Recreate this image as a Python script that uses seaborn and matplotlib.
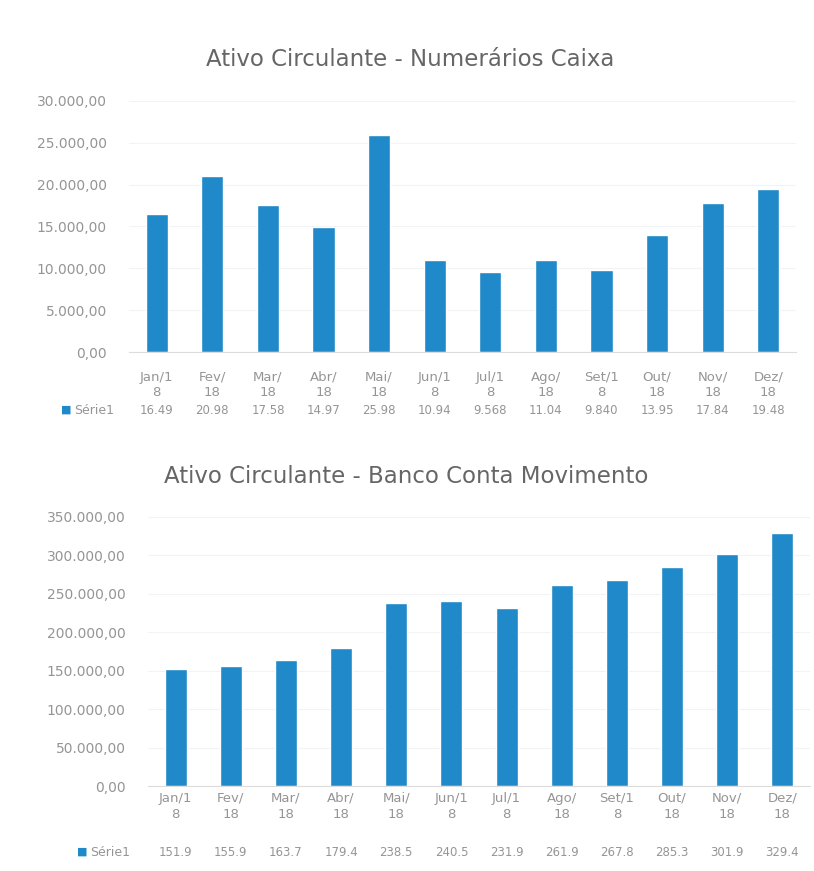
import matplotlib
matplotlib.use("Agg")
import matplotlib.pyplot as plt
import matplotlib.transforms as mtransforms
from matplotlib.ticker import FuncFormatter
import seaborn as sns
import pandas as pd

# Month labels as Excel wraps them in the data table
months = ["Jan/1\n8", "Fev/\n18", "Mar/\n18", "Abr/\n18", "Mai/\n18", "Jun/1\n8",
          "Jul/1\n8", "Ago/\n18", "Set/1\n8", "Out/\n18", "Nov/\n18", "Dez/\n18"]

# Cash on hand (Numerários Caixa), 2018
caixa = [16490, 20980, 17580, 14970, 25980, 10940, 9568, 11040, 9840, 13950, 17840, 19480]

# Bank account balance (Banco Conta Movimento), 2018
banco = [151900, 155900, 163700, 179400, 238500, 240500, 231900, 261900, 267800,
         285300, 301900, 329400]

series_name = "Série1"
title_caixa = "Ativo Circulante - Numerários Caixa"
title_banco = "Ativo Circulante - Banco Conta Movimento"

BAR = "#1f89c9"
TXT = "#959595"
TITLE = "#666666"

W, H = 814, 871


def br(v):
    s = f"{v:,.2f}"
    return s.replace(",", "#").replace(".", ",").replace("#", ".")


def fy(py):
    return 1 - py / H


sns.set_theme(style="white")
plt.rcParams["font.family"] = ["DejaVu Sans"]

fig = plt.figure(figsize=(W / 100, H / 100), dpi=100)
fig.patch.set_facecolor("white")


def panel(rect, values, ymax, step, title, title_xy, cat_py, val_py, key_x, pad,
          tick_size):
    ax = fig.add_axes(rect)
    df = pd.DataFrame({"mes": range(len(values)), "valor": values})
    sns.barplot(data=df, x="mes", y="valor", color=BAR, width=0.40,
                saturation=1, ax=ax, native_scale=False)
    ax.set_xlim(-0.5, len(values) - 0.5)
    ax.set_ylim(0, ymax)
    ax.set_yticks(range(0, ymax + 1, step))
    ax.yaxis.set_major_formatter(FuncFormatter(lambda v, p: br(v)))
    ax.tick_params(axis="y", length=0, pad=pad, labelsize=tick_size, labelcolor=TXT)
    ax.set_xticks([])
    ax.set_xlabel("")
    ax.set_ylabel("")
    ax.grid(axis="y", color="#f3f3f3", linewidth=0.8)
    ax.set_axisbelow(True)
    for s in ["top", "right", "left"]:
        ax.spines[s].set_visible(False)
    ax.spines["bottom"].set_color("#dcdcdc")
    ax.spines["bottom"].set_linewidth(0.8)

    tr = mtransforms.blended_transform_factory(ax.transData, fig.transFigure)
    for i, (m, v) in enumerate(zip(months, values)):
        ax.text(i, fy(cat_py), m, transform=tr, ha="center", va="center",
                fontsize=9.5, color=TXT, linespacing=1.3)
        ax.text(i, fy(val_py), br(v)[:5], transform=tr, ha="center",
                va="center", fontsize=8.5, color=TXT)
    fig.text(key_x / W, fy(val_py), "■", ha="center", va="center",
             fontsize=8, color=BAR)
    fig.text((key_x + 8) / W, fy(val_py), series_name, ha="left",
             va="center", fontsize=9, color=TXT)
    fig.text(title_xy[0] / W, fy(title_xy[1]), title, ha="center",
             va="center", fontsize=16.5, color=TITLE)
    return ax


panel([129 / W, fy(352), (796 - 129) / W, (352 - 101) / H], caixa, 30000, 5000,
      title_caixa, (410, 60), 385, 410, 66, 16, 10)
panel([148 / W, fy(786), (810 - 148) / W, (786 - 517) / H], banco, 350000, 50000,
      title_banco, (406, 476), 806, 852, 82, 16, 10)

fig.savefig("out.png", dpi=100, facecolor="white")
